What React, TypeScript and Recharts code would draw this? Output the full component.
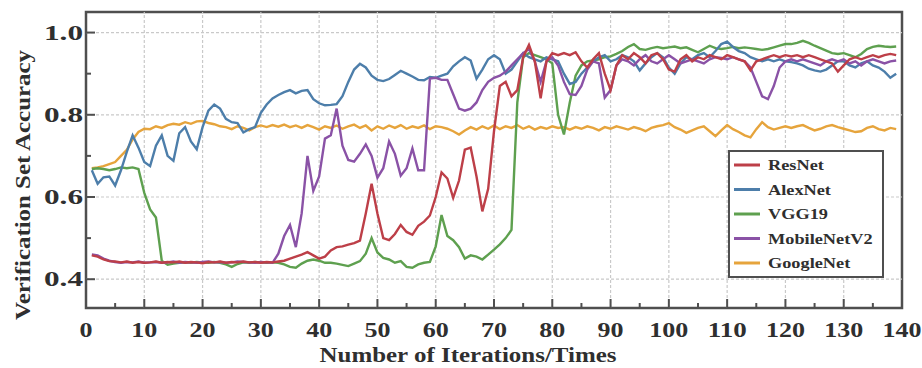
import React from 'react';
import { LineChart, Line, XAxis, YAxis, ReferenceLine, ReferenceArea } from 'recharts';

const iterations = Array.from({ length: 139 }, (_, i) => i + 1);

const resNet = [
  0.458, 0.455, 0.448, 0.444, 0.443, 0.441, 0.443, 0.440, 0.442, 0.440,
  0.441, 0.443, 0.440, 0.442, 0.441, 0.443, 0.440, 0.442, 0.441, 0.439,
  0.442, 0.441, 0.443, 0.440, 0.442, 0.441, 0.443, 0.441, 0.442, 0.440,
  0.442, 0.441, 0.443, 0.445, 0.450, 0.455, 0.460, 0.466, 0.458, 0.450,
  0.455, 0.470, 0.478, 0.480, 0.484, 0.488, 0.494, 0.560, 0.632, 0.560,
  0.500, 0.495, 0.510, 0.532, 0.515, 0.508, 0.530, 0.540, 0.555, 0.600,
  0.660, 0.645, 0.598, 0.640, 0.715, 0.720, 0.650, 0.565, 0.620, 0.760,
  0.870, 0.880, 0.845, 0.860, 0.940, 0.970, 0.930, 0.840, 0.930, 0.950,
  0.945, 0.950, 0.945, 0.952, 0.930, 0.915, 0.935, 0.950, 0.900, 0.860,
  0.920, 0.945, 0.935, 0.950, 0.940, 0.925, 0.945, 0.950, 0.935, 0.910,
  0.905, 0.935, 0.945, 0.930, 0.940, 0.935, 0.945, 0.940, 0.935, 0.945,
  0.940, 0.935, 0.930, 0.908, 0.930, 0.935, 0.940, 0.945, 0.940, 0.945,
  0.942, 0.945, 0.940, 0.945, 0.940, 0.935, 0.930, 0.925, 0.905, 0.920,
  0.935, 0.940, 0.935, 0.940, 0.945, 0.940, 0.945, 0.948, 0.945,
];

const alexNet = [
  0.665, 0.632, 0.648, 0.650, 0.628, 0.665, 0.710, 0.750, 0.720, 0.685,
  0.675, 0.725, 0.750, 0.700, 0.688, 0.755, 0.770, 0.735, 0.716, 0.770,
  0.810, 0.825, 0.815, 0.790, 0.782, 0.780, 0.757, 0.765, 0.770, 0.805,
  0.825, 0.840, 0.848, 0.855, 0.860, 0.852, 0.858, 0.860, 0.838, 0.828,
  0.823, 0.824, 0.826, 0.845, 0.880, 0.910, 0.924, 0.915, 0.895, 0.885,
  0.882, 0.887, 0.897, 0.907, 0.900, 0.893, 0.885, 0.884, 0.892, 0.890,
  0.895, 0.900, 0.918, 0.930, 0.940, 0.932, 0.888, 0.910, 0.935, 0.945,
  0.935, 0.900, 0.910, 0.930, 0.950, 0.940, 0.935, 0.930, 0.940, 0.935,
  0.930, 0.900, 0.875, 0.880, 0.900, 0.915, 0.930, 0.940, 0.945, 0.930,
  0.935, 0.945, 0.940, 0.930, 0.908, 0.925, 0.940, 0.950, 0.940, 0.915,
  0.900, 0.925, 0.940, 0.935, 0.945, 0.950, 0.940, 0.955, 0.972, 0.978,
  0.965, 0.955, 0.950, 0.940, 0.935, 0.930, 0.935, 0.930, 0.935, 0.930,
  0.928, 0.925, 0.920, 0.912, 0.908, 0.905, 0.910, 0.920, 0.930, 0.930,
  0.920, 0.915, 0.925, 0.930, 0.920, 0.915, 0.905, 0.890, 0.900,
];

const vgg19 = [
  0.668, 0.670, 0.668, 0.665, 0.668, 0.672, 0.670, 0.672, 0.668, 0.610,
  0.570, 0.550, 0.445, 0.435, 0.438, 0.440, 0.441, 0.440, 0.442, 0.441,
  0.440, 0.442, 0.440, 0.436, 0.430, 0.437, 0.441, 0.440, 0.442, 0.441,
  0.440, 0.441, 0.440, 0.436, 0.430, 0.428, 0.438, 0.445, 0.448, 0.445,
  0.440, 0.440, 0.438, 0.435, 0.432, 0.438, 0.444, 0.462, 0.500, 0.465,
  0.452, 0.448, 0.440, 0.444, 0.430, 0.428, 0.436, 0.440, 0.442, 0.480,
  0.556, 0.505, 0.495, 0.478, 0.450, 0.458, 0.455, 0.448, 0.460, 0.472,
  0.485, 0.500, 0.520, 0.830, 0.940, 0.950, 0.945, 0.940, 0.935, 0.925,
  0.800, 0.752, 0.830, 0.895, 0.920, 0.930, 0.932, 0.935, 0.940, 0.942,
  0.948, 0.955, 0.965, 0.972, 0.960, 0.958, 0.962, 0.965, 0.962, 0.964,
  0.966, 0.962, 0.964, 0.958, 0.952, 0.960, 0.968, 0.962, 0.960, 0.962,
  0.965, 0.962, 0.964, 0.962, 0.960, 0.958, 0.960, 0.964, 0.968, 0.972,
  0.972, 0.975, 0.980, 0.975, 0.968, 0.962, 0.956, 0.950, 0.948, 0.950,
  0.945, 0.940, 0.948, 0.960, 0.965, 0.968, 0.966, 0.965, 0.966,
];

const mobileNetV2 = [
  0.460, 0.458, 0.450, 0.445, 0.442, 0.440, 0.442, 0.441, 0.443, 0.440,
  0.441, 0.442, 0.440, 0.441, 0.443, 0.440, 0.442, 0.441, 0.440, 0.442,
  0.443, 0.441, 0.442, 0.440, 0.441, 0.443, 0.442, 0.441, 0.440, 0.442,
  0.441, 0.440, 0.462, 0.505, 0.532, 0.478, 0.560, 0.700, 0.615, 0.650,
  0.742, 0.750, 0.815, 0.725, 0.690, 0.686, 0.705, 0.728, 0.700, 0.647,
  0.670, 0.735, 0.705, 0.652, 0.670, 0.718, 0.665, 0.665, 0.888, 0.890,
  0.885, 0.885, 0.850, 0.815, 0.810, 0.815, 0.830, 0.860, 0.880, 0.890,
  0.895, 0.905, 0.920, 0.935, 0.950, 0.960, 0.930, 0.880, 0.930, 0.940,
  0.920, 0.880, 0.850, 0.848, 0.870, 0.910, 0.930, 0.925, 0.842, 0.860,
  0.920, 0.935, 0.930, 0.920, 0.935, 0.945, 0.930, 0.925, 0.935, 0.945,
  0.935, 0.925, 0.930, 0.935, 0.930, 0.925, 0.935, 0.940, 0.938, 0.935,
  0.940, 0.935, 0.930, 0.915, 0.880, 0.845, 0.838, 0.870, 0.915, 0.930,
  0.935, 0.930, 0.935, 0.930, 0.925, 0.920, 0.930, 0.935, 0.930, 0.935,
  0.925, 0.930, 0.920, 0.930, 0.935, 0.930, 0.925, 0.930, 0.932,
];

const googleNet = [
  0.670, 0.672, 0.675, 0.680, 0.685, 0.700, 0.715, 0.740, 0.758, 0.766,
  0.765, 0.772, 0.768, 0.775, 0.778, 0.776, 0.782, 0.778, 0.784, 0.785,
  0.780, 0.777, 0.772, 0.770, 0.765, 0.772, 0.768, 0.762, 0.770, 0.774,
  0.770, 0.775, 0.771, 0.776, 0.770, 0.774, 0.768, 0.775, 0.770, 0.764,
  0.772, 0.768, 0.774, 0.766, 0.772, 0.776, 0.768, 0.774, 0.762, 0.772,
  0.766, 0.774, 0.768, 0.775, 0.766, 0.772, 0.768, 0.774, 0.765, 0.772,
  0.770, 0.766, 0.760, 0.752, 0.762, 0.770, 0.764, 0.772, 0.766, 0.774,
  0.765, 0.772, 0.768, 0.775, 0.766, 0.772, 0.764, 0.770, 0.766, 0.772,
  0.768, 0.770, 0.764, 0.770, 0.766, 0.772, 0.768, 0.762, 0.770, 0.766,
  0.772, 0.768, 0.764, 0.770, 0.766, 0.760, 0.768, 0.772, 0.775, 0.780,
  0.770, 0.764, 0.756, 0.762, 0.768, 0.772, 0.760, 0.748, 0.762, 0.775,
  0.765, 0.758, 0.750, 0.745, 0.765, 0.782, 0.770, 0.764, 0.768, 0.772,
  0.768, 0.772, 0.775, 0.768, 0.762, 0.766, 0.772, 0.775, 0.770, 0.766,
  0.762, 0.758, 0.760, 0.768, 0.772, 0.765, 0.762, 0.768, 0.765,
];

const xTicks = [0, 5, 10, 15, 20, 25, 30, 35, 40, 45, 50, 55, 60, 65, 70, 75, 80, 85, 90, 95, 100, 105, 110, 115, 120, 125, 130, 135, 140];
const yTicks = [0.4, 0.5, 0.6, 0.7, 0.8, 0.9, 1.0];
const xGrid = [10, 20, 30, 40, 50, 60, 70, 80, 90, 100, 110, 120, 130];
const yGrid = [0.4, 0.6, 0.8, 1.0];

const series = [
  { key: 'ResNet', values: resNet, color: '#bd3f48' },
  { key: 'AlexNet', values: alexNet, color: '#4d7eaa' },
  { key: 'VGG19', values: vgg19, color: '#5ea04f' },
  { key: 'MobileNetV2', values: mobileNetV2, color: '#8a52a6' },
  { key: 'GoogleNet', values: googleNet, color: '#e6a43c' },
];
// drawing order: orange at the bottom, red on top
const drawOrder = ['GoogleNet', 'VGG19', 'AlexNet', 'MobileNetV2', 'ResNet'];

const rows = iterations.map((x, i) => {
  const row: Record<string, number> = { x };
  series.forEach(s => { row[s.key] = s.values[i]; });
  return row;
});

const FONT = "'Liberation Serif', 'Times New Roman', serif";
const TEXT = '#2f2f2f';
const FRAME = '#4f4f4f';

const XTick = (props: any) => {
  const { x, y, payload } = props;
  const v = payload.value;
  const major = v % 10 === 0;
  const label = String(v);
  return (
    <g>
      {v > 0 && v < 140 && (
        <line x1={x} x2={x} y1={y} y2={y - (major ? 9 : 5)} stroke={FRAME} strokeWidth={2} />
      )}
      {major && (
        <text x={x} y={y + 29} textAnchor="middle" fontFamily={FONT} fontWeight="bold" fontSize={21}
          fill={TEXT} textLength={13 * label.length} lengthAdjust="spacingAndGlyphs">
          {label}
        </text>
      )}
    </g>
  );
};

const YTick = (props: any) => {
  const { x, y, payload } = props;
  const v = payload.value;
  const major = Math.round(v * 10) % 2 === 0;
  return (
    <g>
      <line x1={x} x2={x + (major ? 9 : 5)} y1={y} y2={y} stroke={FRAME} strokeWidth={2} />
      {major && (
        <text x={x - 3} y={y + 7} textAnchor="end" fontFamily={FONT} fontWeight="bold" fontSize={21}
          fill={TEXT} textLength={39} lengthAdjust="spacingAndGlyphs">
          {v.toFixed(1)}
        </text>
      )}
    </g>
  );
};

const XTitle = () => (
  <text x={468} y={362} textAnchor="middle" fontFamily={FONT} fontWeight="bold" fontSize={20}
    fill={TEXT} textLength={297} lengthAdjust="spacingAndGlyphs">
    Number of Iterations/Times
  </text>
);

const YTitle = () => (
  <text transform="translate(30,185) rotate(-90)" textAnchor="middle" fontFamily={FONT} fontWeight="bold"
    fontSize={21} fill={TEXT} textLength={270} lengthAdjust="spacingAndGlyphs">
    Verification Set Accuracy
  </text>
);

const LegendBox = () => (
  <svg width={156} height={128} style={{ position: 'absolute', left: 728, top: 150 }}>
    <rect x={1} y={1} width={154} height={126} fill="#fff" stroke={FRAME} strokeWidth={2} />
    {series.map((s, i) => {
      const cy = 15 + i * 24.5;
      return (
        <g key={s.key}>
          <line x1={6} x2={32} y1={cy} y2={cy} stroke={s.color} strokeWidth={3} />
          <text transform={`translate(40,${cy + 5}) scale(1.22,1)`} fontFamily={FONT} fontWeight="bold"
            fontSize={15} fill={TEXT}>
            {s.key}
          </text>
        </g>
      );
    })}
  </svg>
);

export default function App() {
  return (
    <div style={{ position: 'absolute', left: 0, top: 0, width: 922, height: 368, background: '#fff' }}>
      <LineChart width={922} height={368} data={rows} margin={{ top: 12, right: 20, bottom: 0, left: 0 }}>
        {xGrid.map(v => (
          <ReferenceLine key={`gx${v}`} x={v} stroke="#c9c9c9" strokeDasharray="3 2" strokeWidth={1.2} />
        ))}
        {yGrid.map(v => (
          <ReferenceLine key={`gy${v}`} y={v} stroke="#c9c9c9" strokeDasharray="3 2" strokeWidth={1.2} />
        ))}
        <XAxis dataKey="x" type="number" domain={[0, 140]} ticks={xTicks} interval={0} height={60}
          axisLine={false} tickLine={false} tickSize={0} tickMargin={0} tick={<XTick />}
          label={{ content: () => <XTitle /> }} />
        <YAxis type="number" domain={[0.33, 1.05]} ticks={yTicks} interval={0} width={86}
          axisLine={false} tickLine={false} tickSize={0} tickMargin={0} tick={<YTick />}
          label={{ content: () => <YTitle /> }} />
        {drawOrder.map(k => {
          const s = series.find(d => d.key === k)!;
          return (
            <Line key={k} type="linear" dataKey={k} stroke={s.color} strokeWidth={2.4} dot={false}
              activeDot={false} isAnimationActive={false} />
          );
        })}
        <ReferenceArea x1={0} x2={140} y1={0.33} y2={1.05} fill="none" stroke={FRAME} strokeWidth={2.5} />
      </LineChart>
      <LegendBox />
    </div>
  );
}
